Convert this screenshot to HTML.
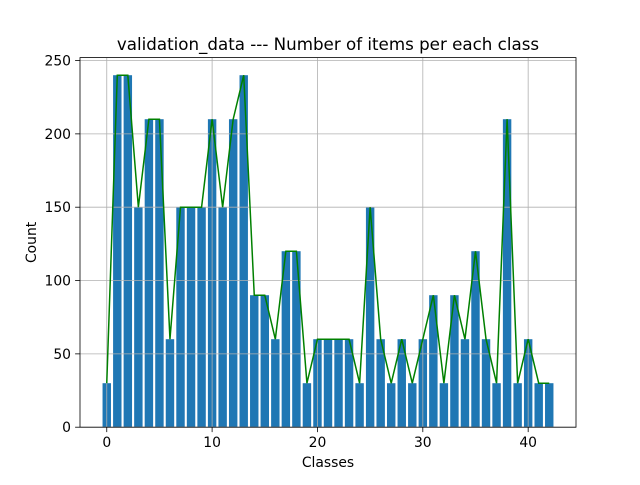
<!DOCTYPE html>
<html><head><meta charset="utf-8"><style>
body{margin:0;background:#fff;}
svg text{font-family:"DejaVu Sans","Liberation Sans",sans-serif;}
</style></head><body>
<svg id="chart" width="640" height="480" xmlns="http://www.w3.org/2000/svg">
<rect width="640" height="480" fill="#fff"/>
<g id="bars"></g><g id="grid"></g><g id="line"></g><g id="axes"></g>
</svg>
<script>
const categories = Array.from({length:43},(_,i)=>i);
const counts = [30,240,240,150,210,210,60,150,150,150,210,150,210,240,90,90,60,120,120,30,60,60,60,60,30,150,60,30,60,30,60,90,30,90,60,120,60,30,210,30,60,30,30];
const xTicks = [0,10,20,30,40];
const yTicks = [0,50,100,150,200,250];

const L=80,R=576,T=57.6,B=427.2;
const xmin=-0.4-0.05*42.8, xmax=42.4+0.05*42.8;
const ymax=Math.max(...counts)*1.05;
const xs=v=>L+(v-xmin)/(xmax-xmin)*(R-L);
const ys=v=>B-v/ymax*(B-T);
const NS="http://www.w3.org/2000/svg";
function mk(tag,attrs,parent){const e=document.createElementNS(NS,tag);for(const k in attrs)e.setAttribute(k,attrs[k]);parent.appendChild(e);return e;}
const bars=document.getElementById('bars'),grid=document.getElementById('grid'),line=document.getElementById('line'),axes=document.getElementById('axes');
categories.forEach((c,i)=>{
  const r=mk('rect',{x:xs(c-0.4),y:ys(counts[i]),width:xs(c+0.4)-xs(c-0.4),height:B-ys(counts[i]),fill:'#1f77b4'},bars);
  
  
});
xTicks.forEach(t=>{
  const g=mk('line',{x1:xs(t),x2:xs(t),y1:T,y2:B,stroke:'#b0b0b0','stroke-width':0.8},grid);
  
  
  mk('line',{x1:xs(t),x2:xs(t),y1:B,y2:B+4.9,stroke:'#000','stroke-width':0.8},axes);
  const tx=mk('text',{x:xs(t),y:B+20,'font-size':13.9,'text-anchor':'middle'},axes);tx.textContent=t;
  
  
});
yTicks.forEach(t=>{
  const g=mk('line',{x1:L,x2:R,y1:ys(t),y2:ys(t),stroke:'#b0b0b0','stroke-width':0.8},grid);
  
  
  mk('line',{x1:L-4.9,x2:L,y1:ys(t),y2:ys(t),stroke:'#000','stroke-width':0.8},axes);
  const tx=mk('text',{x:L-9,y:ys(t)+5,'font-size':13.9,'text-anchor':'end'},axes);tx.textContent=t;
  
  
});
const pl=mk('polyline',{points:categories.map((c,i)=>xs(c)+','+ys(counts[i])).join(' '),fill:'none',stroke:'#008000','stroke-width':1.5},line);


const fr=mk('rect',{x:L,y:T,width:R-L,height:B-T,fill:'none',stroke:'#000','stroke-width':0.8},axes);


const ti=mk('text',{x:(L+R)/2,y:50,'font-size':16.7,'text-anchor':'middle'},axes);ti.textContent='validation_data --- Number of items per each class';


const xl=mk('text',{x:(L+R)/2,y:467,'font-size':13.9,'text-anchor':'middle'},axes);xl.textContent='Classes';


const yl=mk('text',{x:36,y:(T+B)/2,'font-size':13.9,'text-anchor':'middle',transform:'rotate(-90 36 '+((T+B)/2)+')'},axes);yl.textContent='Count';


</script>
</body></html>
